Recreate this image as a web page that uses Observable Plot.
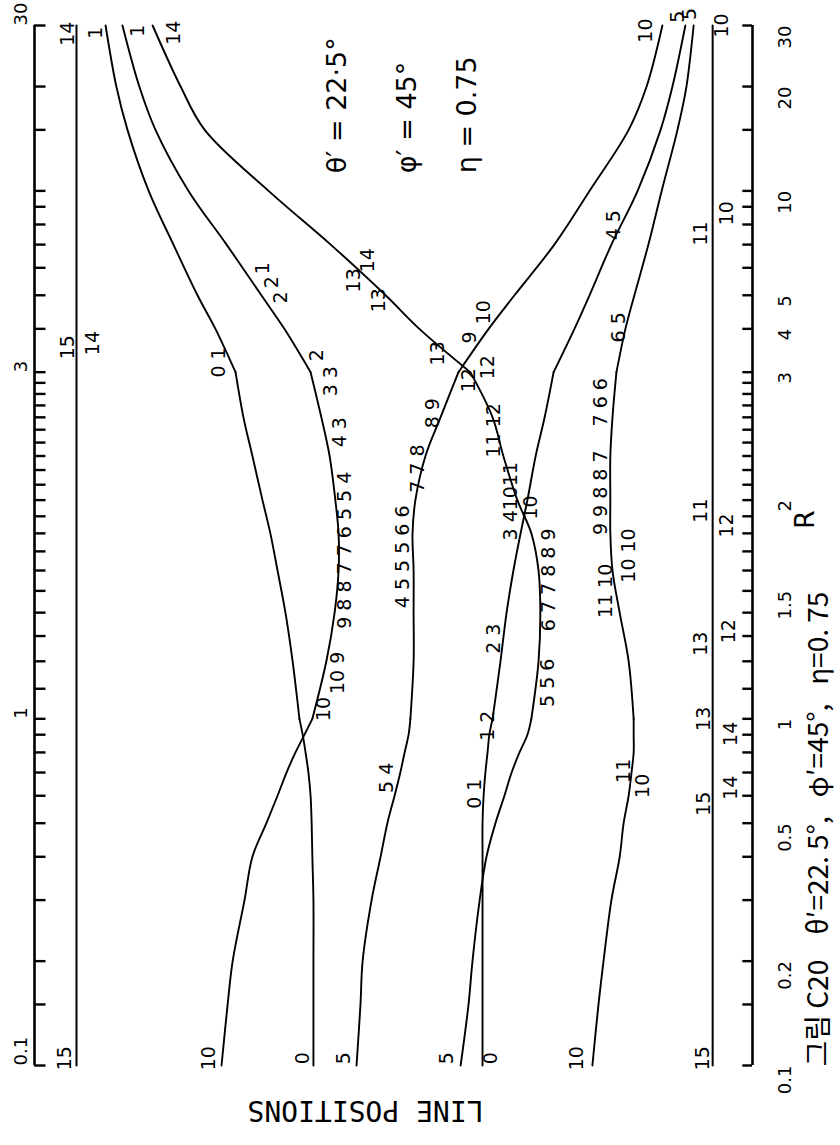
<!DOCTYPE html>
<html><head><meta charset="utf-8">
<script src="https://cdn.jsdelivr.net/npm/d3@7"></script>
<script src="https://cdn.jsdelivr.net/npm/@observablehq/plot@0.6"></script>
<style>html,body{margin:0;padding:0;background:#fff}svg{display:block}</style>
</head><body><div id="chart"></div>
<script>
// R values at which the line positions were read
const R = [0.1,0.15,0.2,0.3,0.4,0.5,0.6,0.7,0.8,0.9,1,1.2,1.4,1.6,1.8,2,2.3,2.6,3,4,5,7,10,15,20,30];
// line positions (arbitrary units, -100 .. 100)
const lineTop1a = [-22.3,-22.3,-22.3,-22.3,-22.6,-22.8,-23.1,-23.7,-24.5,-25.3,-26.2,-28.1,-30.1,-32.3,-34.3,-36.5,-39.3,-41.8,-44.0,-49.6,-54.6,-61.3,-68.2,-74.1,-77.2,-80.2];
const lineTop1b = [-47.9,-46.2,-44.8,-41.5,-39.3,-35.4,-32.3,-29.8,-27.3,-24.8,-22.6,-18.7,-16.4,-15.3,-15.3,-16.2,-17.8,-20.1,-23.1,-30.4,-36.8,-46.5,-57.1,-66.3,-70.8,-75.5];
const lineTop14 = [18.7,20.9,22.0,24.0,25.9,28.4,30.9,32.9,35.1,37.3,38.4,40.4,40.9,40.4,38.4,34.5,30.6,27.6,21.4,7.2,-2.2,-17.5,-34.8,-52.6,-59.3,-67.1];
const lineTop5a = [24.8,24.8,24.8,24.8,24.8,24.8,25.1,25.6,26.2,26.7,27.6,29.8,31.5,33.4,35.4,37.3,39.6,42.1,44.6,50.4,54.6,60.7,68.0,74.4,77.7,81.3];
const lineTop5b = [55.4,57.1,58.5,60.7,63.0,64.1,65.5,66.3,66.9,66.9,66.9,65.5,63.0,61.0,60.4,60.4,60.4,61.0,62.1,64.6,67.1,71.0,74.7,79.1,81.6,83.6];
const lineTop10 = [-10.3,-9.2,-8.6,-6.1,-3.6,-1.7,0.3,1.9,3.1,4.2,4.7,5.6,5.6,5.6,5.3,6.1,8.9,13.1,18.1,26.5,33.7,44.8,54.6,65.5,70.5,74.9];
const straightR = [0.1, 30];
const straightLeft = [-88.3, -88.3];
const straightRight = [88.9, 88.9];

// axis ticks and tick labels
const tickMarks = [0.1,0.15,0.2,0.3,0.4,0.5,0.6,0.7,0.8,0.9,1,1.1,1.2,1.3,1.4,1.5,1.6,1.7,1.8,1.9,2,2.1,2.2,2.3,2.4,2.5,2.6,2.7,2.8,2.9,3,4,5,6,7,8,9,10,15,20,30];
const leftTickLabels = [0.1, 1, 3, 30];
const rightTickLabels = [0.1, 0.2, 0.5, 1, 1.5, 2, 3, 4, 5, 10, 20, 30];

// curve labels: [text, R, position]
const endLabels = [
  ["15",0.105,-91.6],["10",0.105,-51.3],["0",0.105,-25.1],["5",0.105,-13.9],["5",0.105,15.0],["0",0.105,27.0],["10",0.105,51.0],["15",0.105,86.1],
  ["14",28.4,-90.8],["1",28.6,-83.0],["1",29.0,-71.3],["14",28.6,-61.3],["10",29.0,70.2],["5",31.8,79.1],["5",32.4,82.7],["10",30.0,91.5]
];
const midLabels = [
  ["15",3.54,-90.8],["14",3.64,-83.8],["0 1",3.20,-48.7],
  ["1",5.98,-36.5],["2",5.45,-34.0],["2",4.93,-31.5],
  ["13",5.52,-11.1],["14",6.31,-7.0],["13",4.84,-4.2],["13",3.40,12.5],
  ["9",3.78,21.4],["10",4.47,25.1],["12",2.925,20.9],["12",3.10,26.2],
  ["8 9",2.634,10.9],["11 12",2.495,27.9],["7 7 8",2.21,6.7],
  ["2",3.36,-21.2],["3 3",2.915,-17.3],["4 3",2.48,-14.8],
  ["10",1.032,-19.5],["10 9",1.157,-15.6],["5 4",0.676,-1.7],
  ["2 3",1.289,27.9],["1 2",0.955,26.2],["0 1",0.608,22.8],
  ["10",1.954,38.2],["5 5 6",1.121,42.9],
  ["7 6 6",2.727,57.9],["6 5",4.04,62.7],["4 5",7.96,61.3],
  ["10 10",1.678,65.5],["11 10",1.50,59.1],["11",0.708,64.1],["10",0.641,69.6],
  ["11",7.54,85.5],["10",8.62,93.0],["11",1.935,85.5],["12",1.846,93.0],
  ["13",1.269,85.5],["12",1.32,93.3],["13",1.0,86.4],["14",0.905,93.9],
  ["14",0.633,93.9],["15",0.569,86.4]
];
const runLabels = [
  ["9 8 8 7 7 6 5 5 4",1.33,-13.4],["4 5 5 5 6 6",1.42,2.5],["3 41011",1.76,32.6],
  ["6 7 7 8 8 9",1.32,43.2],["9 9 8 8 7",1.79,57.7]
];
const paramLabels = [["θ′ = 22·5°",11.24,-15.6],["φ′ = 45°",11.24,3.9],["η = 0.75",11.24,20.6]];
const axisTitle = [["R",1.88,114.8]];
const sideTitle = [["LINE POSITIONS",0.0742,-7.8]];
const caption = [["그림 C20    θ′=22. 5°,   φ′=45°,   η=0. 75",0.0993,118.6]];

// build table: split each line at the scale breakpoints R=1 and R=3
const series = [
  ["a", lineTop1a], ["b", lineTop1b], ["c", lineTop14],
  ["d", lineTop5a], ["e", lineTop5b], ["f", lineTop10]
];
const rows = [];
for (const [id, vals] of series) {
  R.forEach((r, i) => {
    if (r <= 1) rows.push({id, seg: 0, R: r, pos: vals[i]});
    if (r >= 1 && r <= 3) rows.push({id, seg: 1, R: r, pos: vals[i]});
    if (r >= 3) rows.push({id, seg: 2, R: r, pos: vals[i]});
  });
}
const straight = [];
straightR.forEach((r, i) => {
  straight.push({id: "L", R: r, pos: straightLeft[i]});
  straight.push({id: "Rt", R: r, pos: straightRight[i]});
});
const lab = a => a.map(([text, r, pos]) => ({text, R: r, pos}));

const H = 1145, yTop = 25, yBottom = 1065;
const step = (yBottom - yTop) / 3;
const fs = 19;
const chart = Plot.plot({
  width: 840, height: H,
  marginLeft: 34, marginRight: 88, marginTop: yTop, marginBottom: H - yBottom,
  x: {domain: [-100, 100], axis: null},
  y: {type: "log", domain: [0.1, 1, 3, 30], range: [yBottom, yBottom - step, yBottom - 2 * step, yTop], axis: null},
  style: {background: "#fff", color: "#000", fontFamily: "DejaVu Sans"},
  marks: [
    Plot.ruleX([-100, 100], {y1: 0.1, y2: 30, strokeWidth: 2.6}),
    Plot.ruleY(tickMarks, {y: d => d, x1: -100, x2: -96.8, strokeWidth: 2.4}),
    Plot.ruleY(tickMarks, {y: d => d, x1: 97.3, x2: 100, strokeWidth: 2.4}),
    Plot.text(leftTickLabels, {y: d => d, text: d => String(d), frameAnchor: "left", dx: -13, rotate: -90, fontSize: 18}),
    Plot.text(rightTickLabels, {y: d => d, text: d => String(d), frameAnchor: "right", dx: 33, rotate: -90, fontSize: 18}),
    Plot.line(straight, {x: "pos", y: "R", z: "id", strokeWidth: 2}),
    Plot.line(rows, {x: "pos", y: "R", z: d => d.id + d.seg, curve: "catmull-rom", strokeWidth: 1.9, strokeLinecap: "round"}),
    Plot.text(lab(endLabels), {x: "pos", y: "R", text: "text", rotate: -90, fontSize: fs}),
    Plot.text(lab(midLabels), {x: "pos", y: "R", text: "text", rotate: -90, fontSize: fs}),
    Plot.text(lab(runLabels), {x: "pos", y: "R", text: "text", rotate: -90, fontSize: fs, textAnchor: "start"}),
    Plot.text(lab(paramLabels), {x: "pos", y: "R", text: "text", rotate: -90, fontSize: 27, textAnchor: "start"}),
    Plot.text(lab(axisTitle), {x: "pos", y: "R", text: "text", rotate: -90, fontSize: 27}),
    Plot.text(lab(sideTitle), {x: "pos", y: "R", text: "text", rotate: 180, fontSize: 28, fontFamily: "DejaVu Sans Mono"}),
    Plot.text(lab(caption), {x: "pos", y: "R", text: "text", rotate: -90, fontSize: 28, textAnchor: "start", fontFamily: "Noto Sans CJK KR"})
  ]
});
document.getElementById("chart").appendChild(chart);
</script>
</body></html>
